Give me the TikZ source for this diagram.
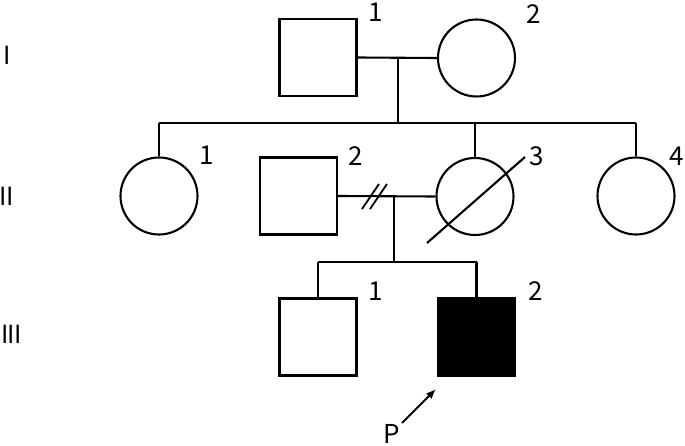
\documentclass[tikz,border=0pt]{standalone}
\usepackage{fontspec}
\setmainfont{Noto Sans CJK JP}
\usetikzlibrary{arrows.meta}
\begin{document}
\begin{tikzpicture}[x=1pt,y=-1pt, line width=2.1pt,
  male/.style={draw, rectangle, minimum size=77pt, inner sep=0pt},
  female/.style={draw, circle, minimum size=77pt, inner sep=0pt},
  lbl/.style={font=\fontsize{26}{26}\selectfont, inner sep=0pt, text height=18.5pt, text depth=0pt},
  gen/.style={font=\fontsize{25}{25}\selectfont, inner sep=0pt, text height=18pt, text depth=0pt}]
\useasboundingbox (0,0) rectangle (685,446);
% generation labels
\node[gen] (gI) at (7,56) {I};
\node[gen] (gII) at (7,197) {I\kern-0.3pt I};
\node[gen, anchor=west] (gIII) at (0,334) {I\kern-0.8pt I\kern-0.8pt I};
% Generation I
\node[male] (I1) at (318,57.5) {};
\node[female] (I2) at (476.5,58) {};
\node[lbl] (lI1) at (376,12.5) {1};
\node[lbl] (lI2) at (534,14) {2};
% Generation II
\node[female] (II1) at (159,196) {};
\node[male] (II2) at (298.5,196) {};
\node[female] (II3) at (475,196.5) {};
\node[female] (II4) at (636,196) {};
\node[lbl] (lII1) at (207,155) {1};
\node[lbl] (lII2) at (356,156) {2};
\node[lbl] (lII3) at (537,156) {3};
\node[lbl] (lII4) at (677,156) {4};
% Generation III
\node[male] (III1) at (318,337) {};
\node[male, fill=black] (III2) at (476.5,337) {};
\node[lbl] (lIII1) at (376,291) {1};
\node[lbl] (lIII2) at (536,291) {2};
% couple I
\draw (I1.east) -- (I2.west);
\coordinate (dI) at (398,58);
\coordinate (sI) at (398,123);
\draw (dI) -- (sI);
\draw (II1.north |- sI) -- (II4.north |- sI);
\draw (II1.north) -- (II1.north |- sI);
\draw (II3.north) -- (II3.north |- sI);
\draw (II4.north) -- (II4.north |- sI);
% couple II (divorced)
\draw (II2.east) -- (II3.west);
\coordinate (dv1a) at (362,209); \coordinate (dv1b) at (379,184);
\coordinate (dv2a) at (370,209); \coordinate (dv2b) at (387,184);
\draw[line width=1.8pt] (dv1a) -- (dv1b);
\draw[line width=1.8pt] (dv2a) -- (dv2b);
\coordinate (dII) at (394,196);
\coordinate (sII) at (394,262);
\draw (dII) -- (sII);
\draw (III1.north |- sII) -- (III2.north |- sII);
\draw (III1.north) -- (III1.north |- sII);
\draw (III2.north) -- (III2.north |- sII);
% deceased slash
\coordinate (slA) at (427,243);
\coordinate (slB) at (525,157);
\draw (slA) -- (slB);
% proband arrow
\node[lbl] (P) at (392,434) {P};
\coordinate (pA) at (402,423);
\coordinate (pB) at (436,389);
\draw[-{Latex[length=10pt,width=8pt]}] (pA) -- (pB);
\end{tikzpicture}
\end{document}
